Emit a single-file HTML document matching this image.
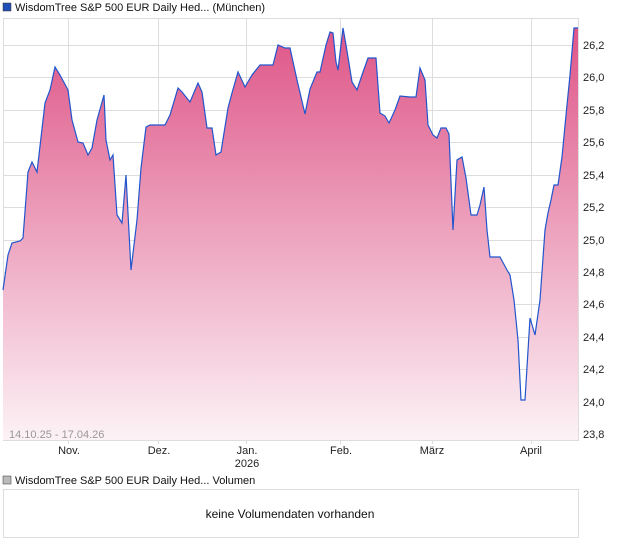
<!DOCTYPE html>
<html><head><meta charset="utf-8"><style>
body{margin:0;background:#fff;font-family:"Liberation Sans",sans-serif;}
</style></head><body>
<svg width="620" height="546" viewBox="0 0 620 546" xmlns="http://www.w3.org/2000/svg" font-family="Liberation Sans, sans-serif">
<defs><linearGradient id="g" x1="0" y1="0" x2="0" y2="1">
<stop offset="0" stop-color="#de5587"/><stop offset="1" stop-color="#fcf2f6"/></linearGradient></defs>
<rect x="3" y="3" width="8" height="8" fill="#1f4fb4" stroke="#333" stroke-width="0.5"/>
<text x="15" y="11" font-size="11" fill="#111">WisdomTree S&amp;P 500 EUR Daily Hed... (München)</text>
<rect x="3.5" y="18.5" width="575" height="422" fill="#fff" stroke="#ddd"/>
<g stroke="#ddd" stroke-width="1">
<line x1="3" x2="578" y1="45.5" y2="45.5"/><line x1="3" x2="578" y1="77.5" y2="77.5"/><line x1="3" x2="578" y1="110.5" y2="110.5"/><line x1="3" x2="578" y1="142.5" y2="142.5"/><line x1="3" x2="578" y1="175.5" y2="175.5"/><line x1="3" x2="578" y1="207.5" y2="207.5"/><line x1="3" x2="578" y1="240.5" y2="240.5"/><line x1="3" x2="578" y1="272.5" y2="272.5"/><line x1="3" x2="578" y1="304.5" y2="304.5"/><line x1="3" x2="578" y1="337.5" y2="337.5"/><line x1="3" x2="578" y1="369.5" y2="369.5"/><line x1="3" x2="578" y1="402.5" y2="402.5"/><line x1="3" x2="578" y1="434.5" y2="434.5"/>
<line x1="68.5" x2="68.5" y1="18" y2="444"/><line x1="158.5" x2="158.5" y1="18" y2="444"/><line x1="246.5" x2="246.5" y1="18" y2="444"/><line x1="340.5" x2="340.5" y1="18" y2="444"/><line x1="432.5" x2="432.5" y1="18" y2="444"/><line x1="531.5" x2="531.5" y1="18" y2="444"/>
</g>
<path fill="url(#g)" d="M3,440 L3,290 L8,255 L12,243 L20,241 L23,238 L28,172 L32,162 L37,172 L45,103 L50,90 L55,67 L60,75 L68,90 L72,120 L78,142 L83,143 L88,155 L92,148 L97,120 L104,95 L106,140 L110,160 L113,155 L117,215 L122,223 L126,175 L131,270 L137,220 L141,168 L146,127 L150,125 L165,125 L170,115 L178,88 L182,92 L190,102 L198,83 L202,92 L207,128 L212,128 L216,155 L221,152 L228,108 L232,93 L238,72 L245,87 L252,75 L260,65 L273,65 L278,45 L285,48 L290,48 L297,80 L305,114 L310,89 L317,72 L320,72 L326,45 L330,32 L333,33 L336,62 L338,70 L343,28 L346,45 L352,82 L357,90 L362,75 L368,58 L376,58 L380,113 L385,116 L389,123 L395,110 L400,96 L410,97 L416,97 L420,68 L425,80 L428,125 L433,135 L437,138 L441,128 L446,128 L449,134 L453,230 L457,160 L462,157 L466,178 L471,215 L477,215 L480,205 L484,187 L487,230 L490,257 L500,257 L507,270 L510,275 L514,300 L518,340 L521,400 L525,400 L530,318 L535,335 L540,300 L545,230 L548,213 L551,200 L554,185 L558,185 L562,157 L566,115 L570,75 L574,28 L578,28 L578,440 Z"/>
<polyline fill="none" stroke="#2255cc" stroke-width="1.2" points="3,290 8,255 12,243 20,241 23,238 28,172 32,162 37,172 45,103 50,90 55,67 60,75 68,90 72,120 78,142 83,143 88,155 92,148 97,120 104,95 106,140 110,160 113,155 117,215 122,223 126,175 131,270 137,220 141,168 146,127 150,125 165,125 170,115 178,88 182,92 190,102 198,83 202,92 207,128 212,128 216,155 221,152 228,108 232,93 238,72 245,87 252,75 260,65 273,65 278,45 285,48 290,48 297,80 305,114 310,89 317,72 320,72 326,45 330,32 333,33 336,62 338,70 343,28 346,45 352,82 357,90 362,75 368,58 376,58 380,113 385,116 389,123 395,110 400,96 410,97 416,97 420,68 425,80 428,125 433,135 437,138 441,128 446,128 449,134 453,230 457,160 462,157 466,178 471,215 477,215 480,205 484,187 487,230 490,257 500,257 507,270 510,275 514,300 518,340 521,400 525,400 530,318 535,335 540,300 545,230 548,213 551,200 554,185 558,185 562,157 566,115 570,75 574,28 578,28"/>
<text x="9" y="438" font-size="11" fill="#999">14.10.25 - 17.04.26</text>
<g font-size="11" fill="#222">
<text x="583" y="49">26,2</text><text x="583" y="81">26,0</text><text x="583" y="114">25,8</text><text x="583" y="146">25,6</text><text x="583" y="179">25,4</text><text x="583" y="211">25,2</text><text x="583" y="244">25,0</text><text x="583" y="276">24,8</text><text x="583" y="308">24,6</text><text x="583" y="341">24,4</text><text x="583" y="373">24,2</text><text x="583" y="406">24,0</text><text x="583" y="438">23,8</text>
</g>
<g font-size="11" fill="#222" text-anchor="middle">
<text x="69" y="454">Nov.</text><text x="159" y="454">Dez.</text><text x="247" y="454">Jan.</text><text x="247" y="467">2026</text><text x="341" y="454">Feb.</text><text x="432" y="454">März</text><text x="531" y="454">April</text>
</g>
<rect x="3" y="476" width="8" height="8" fill="#bbb" stroke="#333" stroke-width="0.5"/>
<text x="15" y="484" font-size="11" fill="#111">WisdomTree S&amp;P 500 EUR Daily Hed... Volumen</text>
<rect x="3.5" y="489.5" width="575" height="48" fill="#fff" stroke="#ddd"/>
<text x="290" y="518" font-size="12" fill="#111" text-anchor="middle">keine Volumendaten vorhanden</text>
</svg>
</body></html>
